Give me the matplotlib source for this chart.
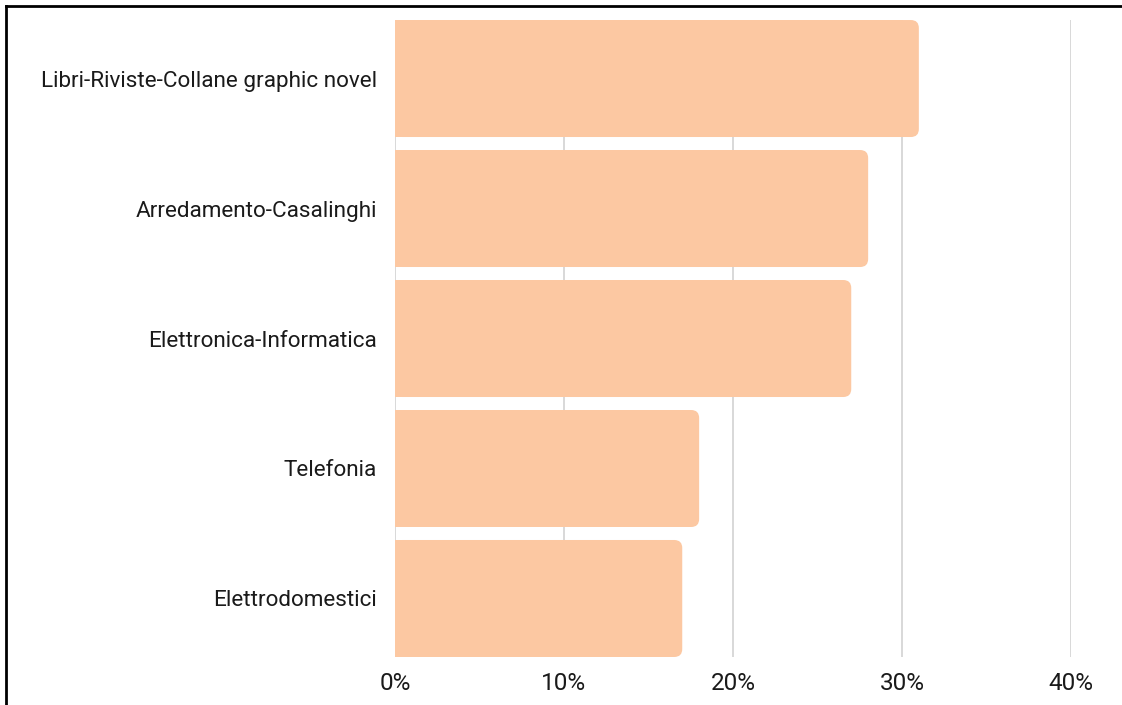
import matplotlib
matplotlib.use("Agg")
import matplotlib.pyplot as plt
from matplotlib.patches import FancyBboxPatch, Rectangle
from matplotlib.lines import Line2D
from matplotlib.ticker import FuncFormatter

categories = ["Libri-Riviste-Collane graphic novel", "Arredamento-Casalinghi",
              "Elettronica-Informatica", "Telefonia", "Elettrodomestici"]
values = [31.0, 28.0, 27.0, 18.0, 17.0]
xticks = [0, 10, 20, 30, 40]

BAR_COLOR = "#FCC8A2"
plt.rcParams["font.family"] = ["Roboto", "DejaVu Sans"]

fig = plt.figure(figsize=(11.22, 7.05), dpi=100)
ax = fig.add_axes([0.352, 0.0681, 0.6025, 0.9035])

ypos = list(range(len(categories)))
bars = ax.barh(ypos, values, height=0.9, color=BAR_COLOR, zorder=2)

ax.set_xlim(0, 40)
ax.set_ylim(len(categories) - 0.55, -0.45)

# rounded right ends: compute aspect so corners look circular in pixels
fig.canvas.draw()
bb = ax.get_window_extent()
px_x = bb.width / 40.0
px_y = bb.height / (len(categories) - 0.1)
r = 8 / px_x
for b in bars:
    b.set_visible(False)
    x0, y0, w, h = b.get_x(), b.get_y(), b.get_width(), b.get_height()
    ax.add_patch(FancyBboxPatch((x0, y0), w, h,
                                boxstyle=f"round,pad=0,rounding_size={r}",
                                mutation_aspect=px_x / px_y,
                                fc=BAR_COLOR, ec="none", zorder=2))
    ax.add_patch(Rectangle((x0, y0), w - 2 * r, h, fc=BAR_COLOR, ec="none", zorder=2))

ax.set_yticks(ypos)
ax.set_yticklabels(categories, fontsize=16.2, color="#1a1a1a")
ax.set_xticks(xticks)
ax.xaxis.set_major_formatter(FuncFormatter(lambda v, p: f"{v:.0f}%"))
ax.tick_params(axis="x", labelsize=17.5, colors="#1a1a1a", length=0, pad=11)
ax.tick_params(axis="y", length=0, pad=13)

ax.grid(axis="x", color="#d2d2d2", linewidth=1.2, zorder=0)
ax.grid(axis="y", visible=False)
for s in ax.spines.values():
    s.set_visible(False)

# outer frame (left and top edges)
fig.add_artist(Line2D([6 / 1122, 6 / 1122], [0, 1 - 6 / 705], color="black", lw=2,
                      transform=fig.transFigure))
fig.add_artist(Line2D([6 / 1122, 1], [1 - 6 / 705, 1 - 6 / 705], color="black", lw=2,
                      transform=fig.transFigure))

fig.savefig("out.png", dpi=100)
